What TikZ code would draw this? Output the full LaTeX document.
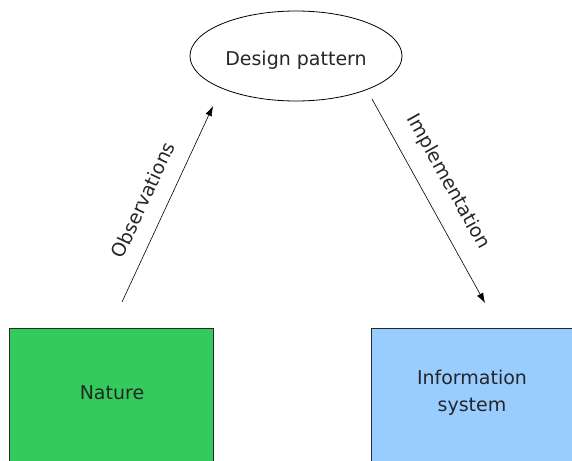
\documentclass[tikz,border=0pt]{standalone}
\usepackage{fontspec}
\setmainfont{DejaVu Sans}
\usetikzlibrary{shapes.geometric,arrows.meta}
\definecolor{natgreen}{RGB}{51,204,92}
\definecolor{sysblue}{RGB}{153,204,255}
\definecolor{edge}{RGB}{40,40,40}
\tikzset{
  box/.style={draw=edge, line width=0.8pt, anchor=north west, inner sep=0pt},
  boxtext/.style={font=\fontsize{19}{27}\selectfont, text=black!85, align=center},
  flow/.style={draw=black, line width=0.6pt, -{Latex[length=10pt,width=7pt]}},
  flowlabel/.style={font=\fontsize{19}{22}\selectfont, text=black!85, inner sep=0pt}
}
\begin{document}
\begin{tikzpicture}[x=1pt,y=-1pt]
  \useasboundingbox (0,0) rectangle (572,460);
  % pattern at the top; the taller text box sets the words a little low
  \node[draw=black, line width=0.8pt, ellipse, minimum width=212pt, minimum height=90pt,
        inner sep=0pt, text height=24pt, text depth=4pt,
        font=\fontsize{19}{22}\selectfont, text=black!85] (pattern) at (296,56) {Design pattern};
  % source and target boxes, running off the lower edge
  \node[box, fill=natgreen, minimum width=204pt, minimum height=160pt] (nature) at (9,328) {};
  \node[box, fill=sysblue, minimum width=230pt, minimum height=160pt] (system) at (371,328) {};
  \node[boxtext] (natlabel) at (112,393) {Nature};
  \node[boxtext] (syslabel) at (472,393) {Information\\system};
  % connectors
  \coordinate (obsA) at (122,302);
  \coordinate (obsB) at (213,106);
  \coordinate (impA) at (372,99);
  \coordinate (impB) at (485,303);
  \draw[flow] (obsA) -- (obsB);
  \draw[flow] (impA) -- (impB);
  \node[flowlabel, rotate=65] (obs) at (143,200) {Observations};
  \node[flowlabel, rotate=-61] (impl) at (448,182) {Implementation};
\end{tikzpicture}
\end{document}
